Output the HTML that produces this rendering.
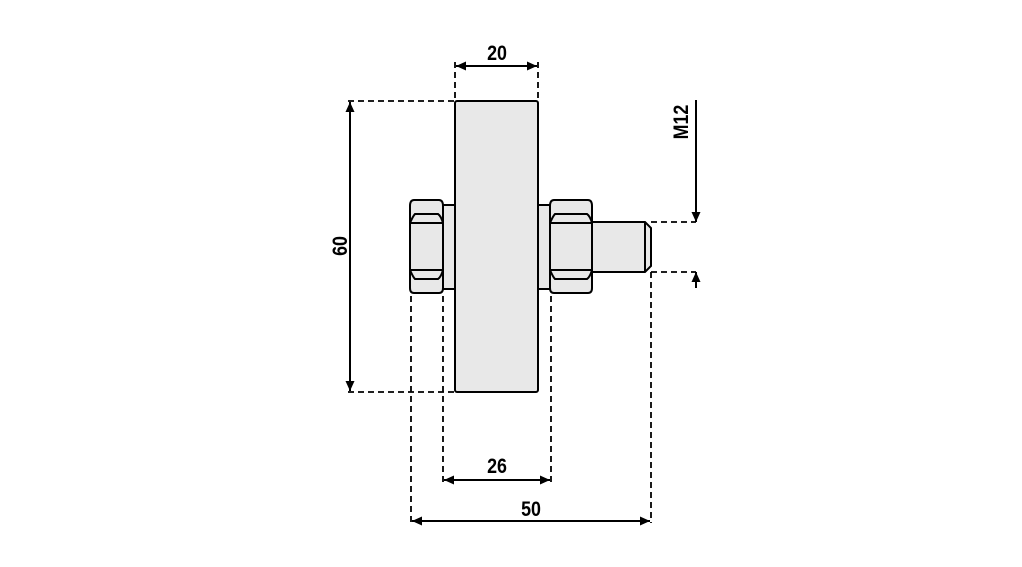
<!DOCTYPE html>
<html><head><meta charset="utf-8"><style>
html,body{margin:0;padding:0;background:#fff;}
svg{display:block}
text{font-family:"Liberation Sans",sans-serif;font-size:21px;font-weight:bold;fill:#000;}
</style></head><body>
<svg width="1022" height="567" viewBox="0 0 1022 567" xmlns="http://www.w3.org/2000/svg">
<defs>
<marker id="a" viewBox="0 0 10 10" refX="10" refY="5" markerWidth="11" markerHeight="10" orient="auto-start-reverse" markerUnits="userSpaceOnUse"><path d="M0,0.5 L10,5 L0,9.5 Z" fill="#000"/></marker>
</defs>
<g stroke="#000" stroke-width="1.8" fill="none" stroke-dasharray="6,4">
<line x1="455" y1="62" x2="455" y2="101"/>
<line x1="538" y1="62" x2="538" y2="101"/>
<line x1="348" y1="101" x2="455" y2="101"/>
<line x1="348" y1="392" x2="455" y2="392"/>
<line x1="443" y1="296" x2="443" y2="482"/>
<line x1="551" y1="296" x2="551" y2="482"/>
<line x1="411" y1="296" x2="411" y2="523"/>
<line x1="651" y1="272" x2="651" y2="523"/>
<line x1="651" y1="222" x2="696" y2="222"/>
<line x1="651" y1="272" x2="696" y2="272"/>
</g>
<g stroke="#000" stroke-width="2" fill="#e8e8e8">
<rect x="443" y="205" width="12" height="84"/>
<rect x="538" y="205" width="12" height="84"/>
<path d="M592,222 H645 L651,228 V266 L645,272 H592 Z"/>
<line x1="645" y1="222" x2="645" y2="272"/>
<rect x="455" y="101" width="83" height="291" rx="2"/>
<path d="M414,200 H439 Q443,200 443,206 V288 Q443,293 439,293 H414 Q410,293 410,288 V206 Q410,200 414,200 Z"/>
<path d="M410,223 Q413,216 415,214 H438 Q441,216 443,223" fill="none"/>
<path d="M410,270 Q413,277 415,279 H438 Q441,277 443,270" fill="none"/>
<line x1="410" y1="223" x2="443" y2="223"/><line x1="410" y1="270" x2="443" y2="270"/>
<path d="M554,200 H588 Q592,200 592,206 V288 Q592,293 588,293 H554 Q550,293 550,288 V206 Q550,200 554,200 Z"/>
<path d="M550,223 Q553,216 555,214 H587 Q590,216 592,223" fill="none"/>
<path d="M550,270 Q553,277 555,279 H587 Q590,277 592,270" fill="none"/>
<line x1="550" y1="223" x2="592" y2="223"/><line x1="550" y1="270" x2="592" y2="270"/>
</g>
<g stroke="#000" stroke-width="2" fill="none">
<line x1="456" y1="66" x2="537" y2="66" marker-start="url(#a)" marker-end="url(#a)"/>
<line x1="350" y1="102" x2="350" y2="391" marker-start="url(#a)" marker-end="url(#a)"/>
<line x1="444" y1="480" x2="550" y2="480" marker-start="url(#a)" marker-end="url(#a)"/>
<line x1="412" y1="521" x2="650" y2="521" marker-start="url(#a)" marker-end="url(#a)"/>
<line x1="696" y1="100" x2="696" y2="222" marker-end="url(#a)"/>
<line x1="696" y1="288" x2="696" y2="272" marker-end="url(#a)"/>
</g>
<text transform="translate(497,60) scale(0.85,1)" text-anchor="middle">20</text>
<text transform="translate(497,473) scale(0.85,1)" text-anchor="middle">26</text>
<text transform="translate(531,516) scale(0.85,1)" text-anchor="middle">50</text>
<text transform="translate(347,246) rotate(-90) scale(0.85,1)" text-anchor="middle">60</text>
<text transform="translate(688,122) rotate(-90) scale(0.85,1)" text-anchor="middle">M12</text>
</svg>
</body></html>
